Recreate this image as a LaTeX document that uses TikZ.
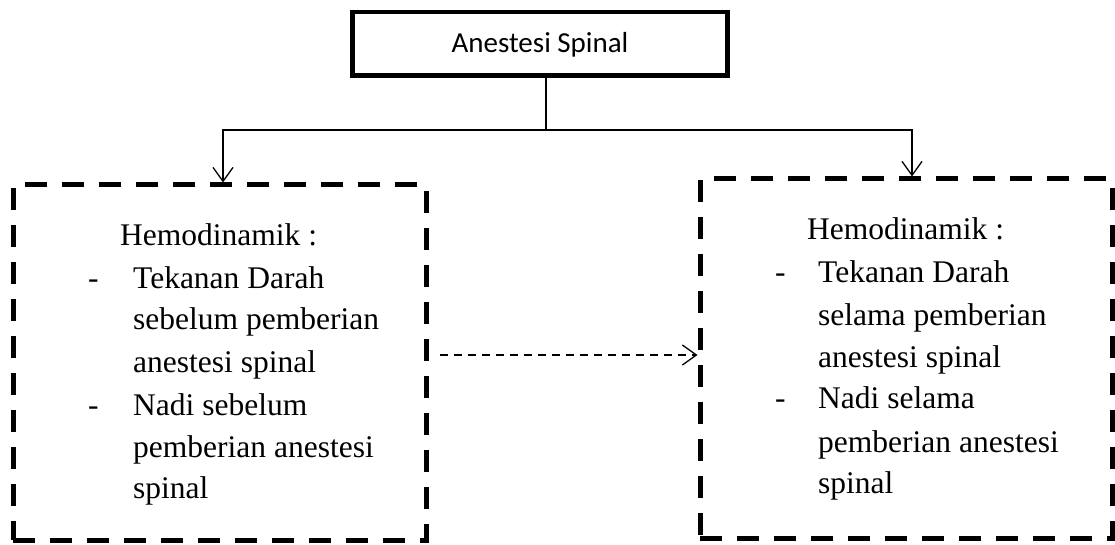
\documentclass[tikz,border=0pt]{standalone}
\usepackage{fontspec}
\setmainfont{Liberation Serif}
\newfontfamily\calib{Carlito}
\usetikzlibrary{arrows.meta}
\tikzset{
  topbox/.style={draw, line width=4.5pt, minimum width=375pt, minimum height=63.5pt, inner sep=0pt},
  dbox/.style={draw, line width=5pt, dash pattern=on 22pt off 15pt, inner sep=0pt},
  conn/.style={line width=1.3pt, -{Straight Barb[length=14pt,width=20pt,line width=1.3pt]}},
  plain/.style={line width=1.3pt},
  darr/.style={line width=1.3pt, dash pattern=on 8pt off 6pt, -{Straight Barb[length=14pt,width=20pt,line width=1.3pt]}},
  txt/.style={inner sep=0pt, anchor=base west, font=\fontsize{31.5}{42}\selectfont},
  ttl/.style={inner sep=0pt, anchor=base, font=\calib\fontsize{29}{35}\selectfont}
}
\begin{document}
\begin{tikzpicture}[x=1pt,y=-1pt]
\useasboundingbox (0,0) rectangle (1115,545);
% top box
\node[topbox] (top) at (540,44) {};
\node[ttl] (ttltext) at (540,53) {Anestesi Spinal};
% dashed boxes
\node[dbox, minimum width=413pt, minimum height=355pt] (lbox) at (219.5,362.5) {};
\node[dbox, minimum width=412pt, minimum height=359pt] (rbox) at (906,358.5) {};
% connectors
\coordinate (j) at (546,130);
\draw[plain] (top.south -| j) -- (j);
\draw[conn] (j) -| ([xshift=3.5pt]lbox.north);
\draw[conn] (j) -| ([xshift=6pt]rbox.north);
\draw[darr] ([xshift=11pt,yshift=7.5pt]lbox.east) -- ([yshift=7.5pt]lbox.east -| rbox.west);
% left text
\node[txt] (l0) at (120,245) {Hemodinamik :};
\node[txt] (l1d) at (88,288) {-};
\node[txt] (l1) at (133,288) {Tekanan Darah};
\node[txt] (l2) at (133,329) {sebelum pemberian};
\node[txt] (l3) at (133,372) {anestesi spinal};
\node[txt] (l4d) at (88,415) {-};
\node[txt] (l4) at (133,415) {Nadi sebelum};
\node[txt] (l5) at (133,457) {pemberian anestesi};
\node[txt] (l6) at (133,498) {spinal};
% right text
\node[txt] (r0) at (807,240) {Hemodinamik :};
\node[txt] (r1d) at (775,282) {-};
\node[txt] (r1) at (818,282) {Tekanan Darah};
\node[txt] (r2) at (818,325) {selama pemberian};
\node[txt] (r3) at (818,367) {anestesi spinal};
\node[txt] (r4d) at (775,408) {-};
\node[txt] (r4) at (818,408) {Nadi selama};
\node[txt] (r5) at (818,452) {pemberian anestesi};
\node[txt] (r6) at (818,493) {spinal};
\end{tikzpicture}
\end{document}
